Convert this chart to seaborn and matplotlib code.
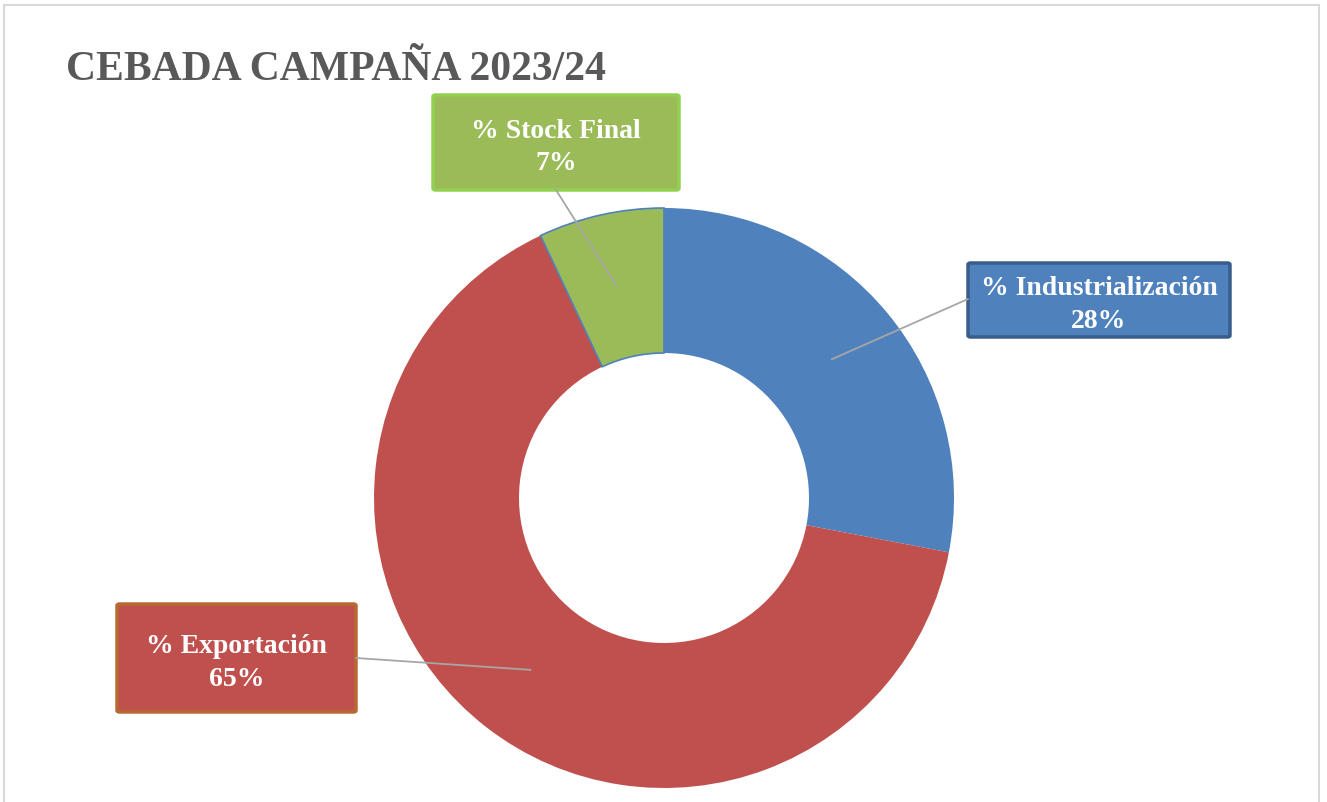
import matplotlib
matplotlib.use("Agg")
import matplotlib.pyplot as plt
from matplotlib.patches import FancyBboxPatch, Rectangle
import numpy as np
import seaborn as sns

sns.set_theme(style="white")
plt.rcParams["font.family"] = ["Liberation Serif", "DejaVu Serif"]

# ── data ─────────────────────────────────────────────────────────────────────
TITLE = "CEBADA CAMPAÑA 2023/24"
CATEGORIES = ["% Industrialización", "% Exportación", "% Stock Final"]
SHARES = [28, 65, 7]
COLORS = ["#4F81BD", "#C0504D", "#9BBB59"]
BOX_EDGES = ["#385D8A", "#B66A31", "#92D050"]

# label box geometry in pixels (left, top, width, height) — layout only
BOXES = [(968, 264, 262, 74), (117, 605, 239, 108), (433, 96, 246, 95)]
# where each leader line meets its box (pixels)
ANCHORS = [(968, 300), (356, 659), (556, 191)]

W, H = 1327, 803
fig = plt.figure(figsize=(W / 100, H / 100), dpi=100)
fig.patch.set_facecolor("white")


def fx(px):
    return px / W


def fy(py):
    return 1 - py / H


# chart frame
fig.add_artist(Rectangle((fx(4), fy(830)), fx(1315), (830 - 6) / H,
                         transform=fig.transFigure, fill=False,
                         edgecolor="#D9D9D9", linewidth=1.5))

cx, cy, r = 664, 499, 290
ax = fig.add_axes([fx(cx - r), fy(cy + r), 2 * r / W, 2 * r / H])
wedges, _ = ax.pie(SHARES, colors=COLORS, startangle=90, counterclock=False,
                   wedgeprops=dict(width=0.5, linewidth=0))
wedges[2].set_edgecolor("#4F81BD")
wedges[2].set_linewidth(1.2)
ax.set_xlim(-1, 1)
ax.set_ylim(-1, 1)
ax.set_aspect("auto")
ax.axis("off")

fig.text(fx(66), fy(80), TITLE, fontsize=30, fontweight="bold",
         color="#595959", ha="left", va="baseline")

for w, cat, val, (bl, bt, bw, bh), ec, (axp, ayp) in zip(
        wedges, CATEGORIES, SHARES, BOXES, BOX_EDGES, ANCHORS):
    mid = np.deg2rad((w.theta1 + w.theta2) / 2)
    sx, sy = 0.75 * np.cos(mid), 0.75 * np.sin(mid)
    start = fig.transFigure.inverted().transform(ax.transData.transform((sx, sy)))
    fig.add_artist(plt.Line2D([start[0], fx(axp)], [start[1], fy(ayp)],
                              transform=fig.transFigure, color="#A6A6A6",
                              linewidth=1.3))
    fig.add_artist(FancyBboxPatch((fx(bl), fy(bt + bh)), fx(bw), bh / H,
                                  boxstyle="round,pad=0,rounding_size=0.002",
                                  transform=fig.transFigure,
                                  facecolor=w.get_facecolor(), edgecolor=ec,
                                  linewidth=2.5))
    fig.text(fx(bl + bw / 2), fy(bt + bh / 2 + 4), f"{cat}\n{val}%",
             fontsize=20, fontweight="bold", color="white",
             ha="center", va="center", linespacing=1.4)

fig.savefig("out.png", dpi=100)
